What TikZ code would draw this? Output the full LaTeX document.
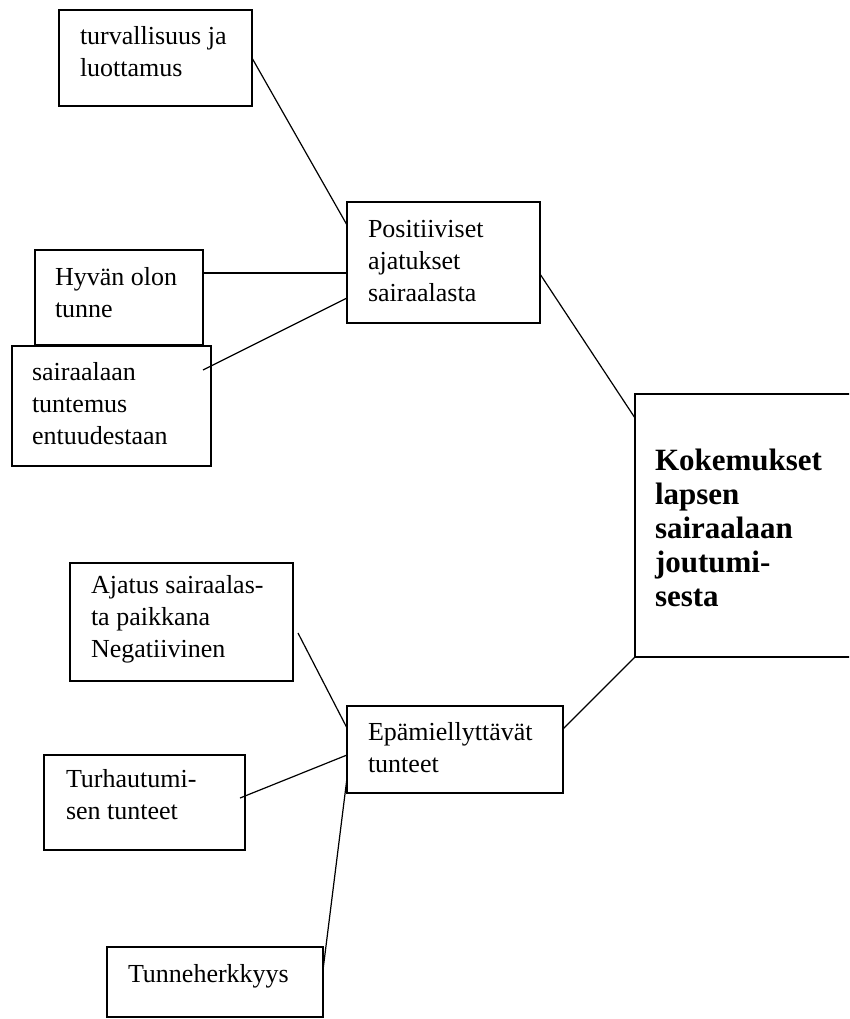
\documentclass[tikz,border=0pt]{standalone}
\usepackage{fontspec}
\setmainfont{Liberation Serif}
\usetikzlibrary{calc}
\tikzset{
  box/.style={draw, line width=1.2pt, rectangle, anchor=north west, inner sep=0pt, outer sep=0pt},
  txt/.style={anchor=north west, inner sep=0pt, outer sep=0pt, align=left, font=\fontsize{26}{32}\selectfont},
  bigtxt/.style={anchor=north west, inner sep=0pt, outer sep=0pt, align=left, font=\fontsize{31}{34}\selectfont\bfseries},
  link/.style={line width=1.2pt},
}
\begin{document}
\begin{tikzpicture}[x=1pt, y=-1pt]
\useasboundingbox (0,0) rectangle (849,1019);
\clip (0,0) rectangle (849,1019);
% boxes
\node[box, minimum width=193pt, minimum height=96pt] (tur) at (59,10) {};
\node[box, minimum width=193pt, minimum height=121pt] (pos) at (347,202) {};
\node[box, minimum width=168pt, minimum height=95pt] (hyv) at (35,250) {};
\node[box, minimum width=199pt, minimum height=120pt, fill=white] (sai) at (12,346) {};
\node[box, minimum width=230pt, minimum height=263pt] (kok) at (635,394) {};
\node[box, minimum width=223pt, minimum height=118pt] (aja) at (70,563) {};
\node[box, minimum width=216pt, minimum height=87pt] (epa) at (347,706) {};
\node[box, minimum width=201pt, minimum height=95pt] (tur2) at (44,755) {};
\node[box, minimum width=216pt, minimum height=70pt] (tun) at (107,947) {};
% texts
\node[txt] (turT) at ($(tur.north west)+(21,15)$) {\rule{0pt}{20pt}turvallisuus ja\\luottamus};
\node[txt] (posT) at ($(pos.north west)+(21,15)$) {\rule{0pt}{20pt}Positiiviset\\ajatukset\\sairaalasta};
\node[txt] (hyvT) at ($(hyv.north west)+(20,15)$) {\rule{0pt}{20pt}Hyvän olon\\tunne};
\node[txt] (saiT) at ($(sai.north west)+(20,14)$) {\rule{0pt}{20pt}sairaalaan\\tuntemus\\entuudestaan};
\node[bigtxt] (kokT) at ($(kok.north west)+(20,52)$) {\rule{0pt}{24pt}Kokemukset\\lapsen\\sairaalaan\\joutumi-\\sesta};
\node[txt] (ajaT) at ($(aja.north west)+(21,10)$) {\rule{0pt}{20pt}Ajatus sairaalas-\\ta paikkana\\Negatiivinen};
\node[txt] (epaT) at ($(epa.north west)+(21,14)$) {\rule{0pt}{20pt}Epämiellyttävät\\tunteet};
\node[txt] (tur2T) at ($(tur2.north west)+(22,12)$) {\rule{0pt}{20pt}Turhautumi-\\sen tunteet};
\node[txt] (tunT) at ($(tun.north west)+(21,15)$) {\rule{0pt}{20pt}Tunneherkkyys};
% connectors
\draw[link] ($(tur.north east)+(0,48)$) -- ($(pos.north west)+(0,23)$);
\draw[link] ($(hyv.north east)+(0,23)$) -- ($(pos.north west)+(0,71)$);
\draw[link] ($(sai.north east)+(-8,24)$) -- ($(pos.north west)+(0,96)$);
\draw[link] ($(pos.north east)+(0,72)$) -- ($(kok.north west)+(0,24)$);
\draw[link] (kok.south west) -- ($(epa.north east)+(0,23)$);
\draw[link] ($(aja.north east)+(5,70)$) -- ($(epa.north west)+(0,22)$);
\draw[link] ($(tur2.north east)+(-5,43)$) -- ($(epa.north west)+(0,49)$);
\draw[link] ($(tun.north east)+(0,23)$) -- ($(epa.north west)+(0,72)$);
\end{tikzpicture}
\end{document}
